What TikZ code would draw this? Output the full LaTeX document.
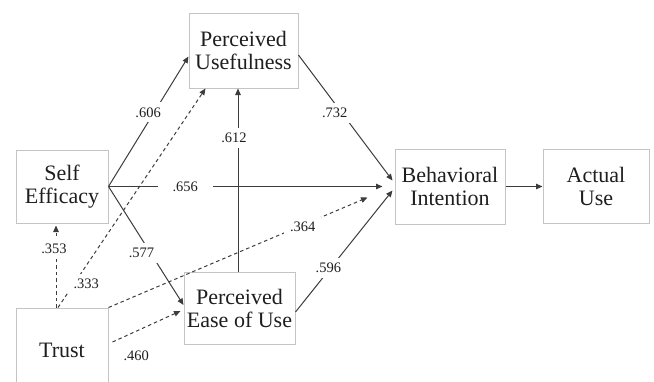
\documentclass[tikz,border=0pt]{standalone}
\usepackage{fontspec}
\setmainfont{Liberation Serif}
\usepackage{tikz}
\usetikzlibrary{arrows.meta,positioning}
\definecolor{edge}{RGB}{60,60,60}
\definecolor{boxline}{RGB}{196,196,196}
\definecolor{ink}{RGB}{30,30,30}
\tikzset{
  cons/.style={draw=boxline,line width=1pt,align=center,text=ink,inner sep=2pt,
               font=\fontsize{22}{23}\selectfont},
  path/.style={-{Triangle[length=6.5pt,width=5.5pt]},line width=1pt,draw=edge},
  pathd/.style={path,dash pattern=on 3.5pt off 3pt},
  lbl/.style={font=\fontsize{14.5}{15}\selectfont,text=ink,inner xsep=6pt,inner ysep=5pt,fill=white},
}

\begin{document}
\begin{tikzpicture}[x=1pt,y=-1pt]
  \useasboundingbox (0,0) rectangle (654,381);

  % konstrukte
  \node[cons,minimum width=109,minimum height=75] (pu) at (243.5,50.5) {Perceived\\Usefulness};
  \node[cons,minimum width=92,minimum height=73] (se) at (62,186.5) {Self\\Efficacy};
  \node[cons,minimum width=111,minimum height=72] (peou) at (239.5,308) {Perceived\\Ease of Use};
  \node[cons,minimum width=110,minimum height=75] (bi) at (450,186.5) {Behavioral\\Intention};
  \node[cons,minimum width=106,minimum height=74] (au) at (596,186.5) {Actual\\Use};
  \node[cons,minimum width=92,minimum height=90] (tr) at (62,353) {\raisebox{6pt}{Trust}};

  % pfade aus self efficacy
  \draw[path] (se.east) -- node[lbl,pos=.57,xshift=-6pt]{.606} ([yshift=-6pt]pu.west);
  \draw[path] (se.east) -- node[lbl,pos=.28,inner xsep=15pt]{.656} ([xshift=-12pt]bi.west);
  \draw[path] (se.east) -- node[lbl,pos=.56,xshift=-9pt]{.577} ([yshift=3pt]peou.west);

  % pfade zu usefulness und intention
  \draw[path] ([xshift=-1.5pt]peou.north) -- node[lbl,pos=.73,xshift=-4pt]{.612}
    ([xshift=-1.5pt]peou.north |- pu.south);
  \draw[path] ([yshift=-4.5pt]pu.east) -- node[lbl,pos=.46,xshift=-7pt]{.732}
    ([xshift=-2pt,yshift=6pt]bi.west);
  \draw[path] ([yshift=-4pt]peou.east) -- node[lbl,pos=.36,xshift=-2pt]{.596}
    ([xshift=-2pt,yshift=-4pt]bi.west);
  \draw[path] (bi.east) -- (au.west);

  % pfade aus trust, gestrichelt
  \draw[pathd] ([xshift=-6pt]tr.north) -- node[lbl,pos=.71,xshift=-2pt]{.353}
    ([xshift=-6pt,yshift=-2pt]se.south);
  \draw[pathd] ([xshift=-4pt]tr.north) -- node[lbl,pos=.11,xshift=12pt]{.333}
    ([xshift=-38pt]pu.south);
  \draw[pathd] (tr.north east) -- node[lbl,pos=.75,yshift=-2pt]{.364}
    ([xshift=-27pt,yshift=-11pt]bi.west);
  \draw[pathd] ([xshift=4pt,yshift=11pt]tr.east) -- node[lbl,pos=.35,below=14pt]{.460}
    ([xshift=-3pt,yshift=-3pt]peou.west);
\end{tikzpicture}
\end{document}
